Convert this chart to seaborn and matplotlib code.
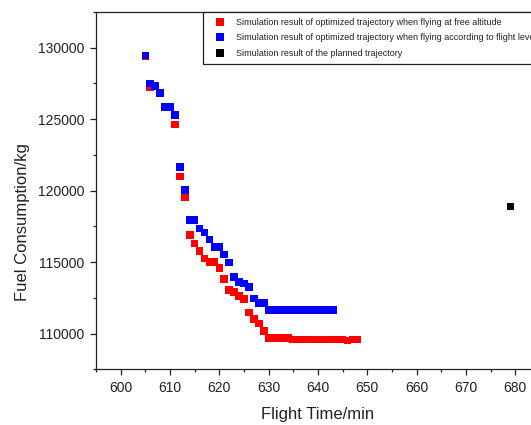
import numpy as np
import pandas as pd
import matplotlib
matplotlib.use("Agg")
import matplotlib.pyplot as plt
from matplotlib.ticker import MultipleLocator
from matplotlib.lines import Line2D
import seaborn as sns

# ---- data ----
free_time = [605, 606, 607, 608, 609, 610, 611, 612, 613, 614, 615, 616, 617, 618,
             619, 620, 621, 622, 623, 624, 625, 626, 627, 628, 629, 630, 631, 632,
             633, 634, 635, 636, 637, 638, 639, 640, 641, 642, 643, 644, 645, 646,
             647, 648]
free_fuel = [129400, 127260, 127330, 126840, 125860, 125860, 124630, 121000, 119570,
             116890, 116310, 115790, 115260, 115020, 115020, 114600, 113810, 113040,
             112920, 112640, 112410, 111480, 111010, 110710, 110180, 109710, 109710,
             109710, 109710, 109710, 109600, 109600, 109600, 109600, 109600, 109600,
             109600, 109600, 109600, 109600, 109600, 109520, 109600, 109600]

level_time = [605, 606, 607, 608, 609, 610, 611, 612, 613, 614, 615, 616, 617, 618,
              619, 620, 621, 622, 623, 624, 625, 626, 627, 628, 629, 630, 631, 632,
              633, 634, 635, 636, 637, 638, 639, 640, 641, 642, 643]
level_fuel = [129450, 127500, 127330, 126840, 125860, 125860, 125280, 121640, 120030,
              117940, 117940, 117360, 117080, 116590, 116070, 116070, 115540, 114980,
              113970, 113620, 113510, 113270, 112460, 112150, 112150, 111650, 111650,
              111650, 111650, 111650, 111650, 111650, 111650, 111650, 111650, 111650,
              111650, 111650, 111650]

planned_time = [679]
planned_fuel = [118900]

series_labels = [
    "Simulation result of optimized trajectory when flying at free altitude",
    "Simulation result of optimized trajectory when flying according to flight level",
    "Simulation result of the planned trajectory",
]
series_colors = ["#FF0000", "#0000FF", "#000000"]

x_ticks = [600, 610, 620, 630, 640, 650, 660, 670, 680]
y_ticks = [110000, 115000, 120000, 125000, 130000]

df = pd.concat([
    pd.DataFrame({"time": free_time, "fuel": free_fuel, "series": series_labels[0]}),
    pd.DataFrame({"time": level_time, "fuel": level_fuel, "series": series_labels[1]}),
    pd.DataFrame({"time": planned_time, "fuel": planned_fuel, "series": series_labels[2]}),
], ignore_index=True)

sns.set_style("ticks")
plt.rcParams["font.family"] = ["Liberation Sans", "DejaVu Sans"]

fig = plt.figure(figsize=(5.31, 4.25), dpi=100)
ax = fig.add_axes([0.1808, 0.131, 0.836, 0.8407])

sns.scatterplot(data=df, x="time", y="fuel", hue="series",
                palette=dict(zip(series_labels, series_colors)),
                marker="s", s=30, linewidth=0, legend=False, ax=ax, zorder=3)

ax.set_xlim(595, 685)
ax.set_ylim(107500, 132500)
ax.set_xticks(x_ticks)
ax.set_yticks(y_ticks)
ax.xaxis.set_minor_locator(MultipleLocator(5))
ax.yaxis.set_minor_locator(MultipleLocator(2500))
ax.set_xticklabels([str(v) for v in x_ticks])
ax.set_yticklabels([str(v) for v in y_ticks])

ax.tick_params(axis="both", which="major", direction="out", length=4, width=0.9,
               labelsize=10, pad=4.5, colors="#222222", labelcolor="#222222")
ax.tick_params(axis="both", which="minor", direction="out", length=2.2, width=0.9,
               colors="#222222")
ax.tick_params(top=False, right=False, which="both")

for side in ["left", "bottom", "top"]:
    ax.spines[side].set_linewidth(0.9)
    ax.spines[side].set_color("#222222")
ax.spines["right"].set_visible(False)

ax.set_xlabel("Flight Time/min", fontsize=12, color="#222222")
ax.set_ylabel("Fuel Consumption/kg", fontsize=12, color="#222222")
ax.xaxis.set_label_coords(0.5, -0.105)
ax.yaxis.set_label_coords(-0.149, 0.412)

handles = [Line2D([], [], linestyle="none", marker="s", markersize=5.8,
                  markerfacecolor=c, markeredgecolor=c, markeredgewidth=0)
           for c in series_colors]
leg = ax.legend(handles, series_labels, loc="upper left",
                bbox_to_anchor=(0.240, 1.0), borderaxespad=0,
                fontsize=6.5, frameon=True, fancybox=False,
                handlelength=2.5, handletextpad=0.55, labelspacing=0.72,
                borderpad=0.65)
leg.get_frame().set_edgecolor("#222222")
leg.get_frame().set_linewidth(0.9)
leg.get_frame().set_alpha(1)
for t in leg.get_texts():
    t.set_color("#222222")

fig.savefig("out.png", dpi=100)
